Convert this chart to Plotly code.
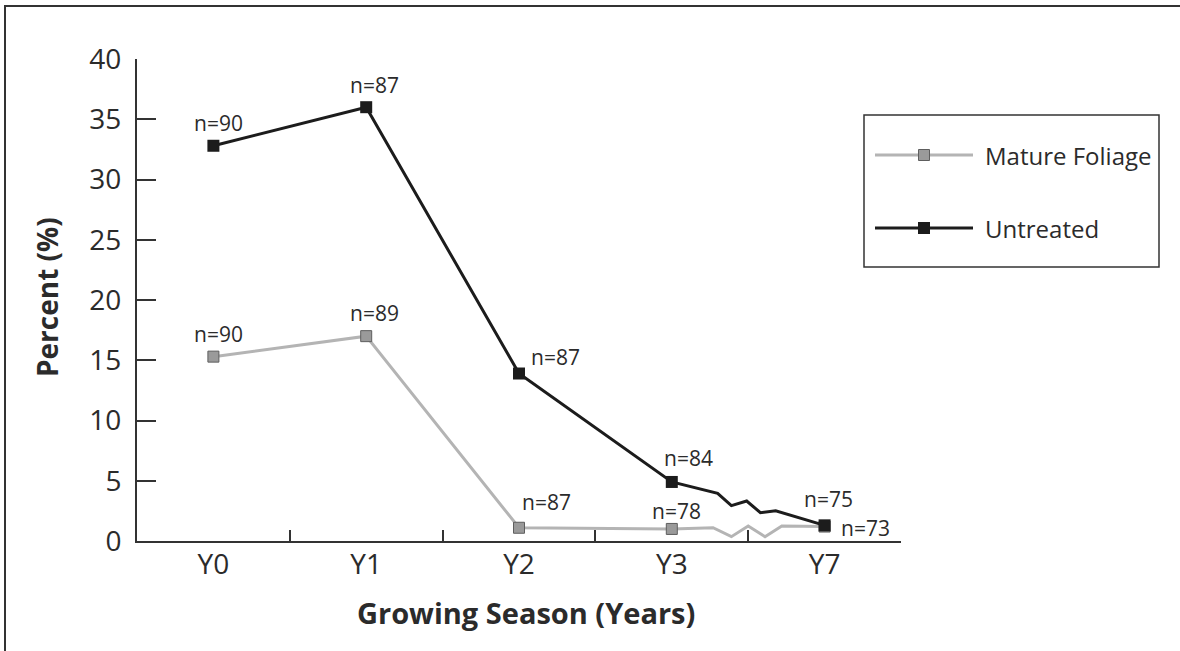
import plotly.graph_objects as go

# ---- data ----
seasons = ["Y0", "Y1", "Y2", "Y3", "Y7"]
untreated = [32.8, 36.0, 13.9, 4.9, 1.3]
mature = [15.3, 17.0, 1.1, 1.0, 1.2]
untreated_n = [90, 87, 87, 84, 75]
mature_n = [90, 89, 87, 78, 73]
# axis-break squiggle between Y3 and Y7 (x in category-index units)
untreated_break_x = [3.30, 3.39, 3.49, 3.58, 3.68]
untreated_break_y = [3.96, 2.93, 3.32, 2.35, 2.51]
mature_break_x = [3.27, 3.39, 3.50, 3.61, 3.72]
mature_break_y = [1.10, 0.36, 1.24, 0.36, 1.24]
series_names = ["Mature Foliage", "Untreated"]

W, H = 1180, 651
FONT = "Open Sans"
TXT = "#2b2b2b"

def px_x(p):
    return p / W

def px_y(p):
    return (H - p) / H

idx = list(range(len(seasons)))

def full_path(vals, bx, by):
    xs = idx[:4] + bx + [idx[4]]
    ys = vals[:4] + by + [vals[4]]
    return xs, ys

GRAY_LINE = "#b4b4b4"
GRAY_FILL = "#9a9a9a"
GRAY_EDGE = "#5e5e5e"
BLACK = "#1c1c1c"

fig = go.Figure()

mx, my = full_path(mature, mature_break_x, mature_break_y)
ux, uy = full_path(untreated, untreated_break_x, untreated_break_y)

fig.add_trace(go.Scatter(x=mx, y=my, mode="lines", line=dict(color=GRAY_LINE, width=3),
                         hoverinfo="skip", showlegend=False, cliponaxis=False))
fig.add_trace(go.Scatter(x=idx, y=mature, mode="markers", name=series_names[0],
                         marker=dict(symbol="square", size=11, color=GRAY_FILL,
                                     line=dict(color=GRAY_EDGE, width=1)),
                         showlegend=False, cliponaxis=False))
fig.add_trace(go.Scatter(x=ux, y=uy, mode="lines", line=dict(color=BLACK, width=3),
                         hoverinfo="skip", showlegend=False, cliponaxis=False))
fig.add_trace(go.Scatter(x=idx, y=untreated, mode="markers", name=series_names[1],
                         marker=dict(symbol="square", size=12, color=BLACK,
                                     line=dict(color=BLACK, width=0)),
                         showlegend=False, cliponaxis=False))

# invisible trace to anchor the boundary-tick axis
fig.add_trace(go.Scatter(x=[0], y=[0], xaxis="x2", mode="markers",
                         marker=dict(opacity=0), hoverinfo="skip", showlegend=False))

# legend samples drawn on an auxiliary axis pair
leg_rows = [1, 0]
leg_colors = [(GRAY_LINE, GRAY_FILL, GRAY_EDGE, 11, 1), (BLACK, BLACK, BLACK, 12, 0)]
for name, row, (lc, fc, ec, ms, ew) in zip(series_names, leg_rows, leg_colors):
    fig.add_trace(go.Scatter(x=[0, 1], y=[row, row], xaxis="x3", yaxis="y3", mode="lines",
                             line=dict(color=lc, width=3), hoverinfo="skip",
                             showlegend=False, cliponaxis=False))
    fig.add_trace(go.Scatter(x=[0.5], y=[row], xaxis="x3", yaxis="y3", mode="markers",
                             marker=dict(symbol="square", size=ms, color=fc,
                                         line=dict(color=ec, width=ew)),
                             hoverinfo="skip", showlegend=False, cliponaxis=False))

# n= labels (offsets in pixels)
u_off = [(5, 23, "center"), (8, 22, "center"), (10, 17, "left"), (17, 24, "center"), (4, 26, "center")]
m_off = [(5, 23, "center"), (8, 23, "center"), (27, 26, "center"), (5, 18, "center"), (14, -1, "left")]
annotations = []
for vals, ns, offs in ((untreated, untreated_n, u_off), (mature, mature_n, m_off)):
    for i, (v, n, (dx, dy, anc)) in enumerate(zip(vals, ns, offs)):
        annotations.append(dict(x=idx[i], y=v, xref="x", yref="y", text=f"n={n}",
                                showarrow=False, xanchor=anc, yanchor="middle",
                                xshift=dx, yshift=dy,
                                font=dict(family=FONT, size=21, color=TXT)))

# axis titles
annotations.append(dict(x=px_x(526), y=px_y(612), xref="paper", yref="paper",
                        text="Growing Season (Years)", showarrow=False,
                        xanchor="center", yanchor="middle",
                        font=dict(family=FONT, size=29, color=TXT, weight="bold")))
annotations.append(dict(x=px_x(47), y=px_y(297), xref="paper", yref="paper",
                        text="Percent (%)", showarrow=False, textangle=-90,
                        xanchor="center", yanchor="middle",
                        font=dict(family=FONT, size=28, color=TXT, weight="bold")))
# legend labels
for name, ypx in zip(series_names, [156, 229]):
    annotations.append(dict(x=px_x(983), y=px_y(ypx), xref="paper", yref="paper",
                            text=name, showarrow=False, xanchor="left", yanchor="middle",
                            font=dict(family=FONT, size=24, color=TXT)))

shapes = [
    # outer frame (extends past right and bottom edges)
    dict(type="rect", xref="paper", yref="paper", x0=px_x(5), x1=1.05, y0=-0.05, y1=px_y(6),
         line=dict(color="#333333", width=2), fillcolor="rgba(0,0,0,0)", layer="below"),
    # legend box
    dict(type="rect", xref="paper", yref="paper", x0=px_x(864), x1=px_x(1159),
         y0=px_y(267), y1=px_y(115), line=dict(color="#333333", width=1.5),
         fillcolor="rgba(0,0,0,0)"),
]

AX = "#333333"
fig.update_layout(
    width=W, height=H, autosize=False,
    margin=dict(l=0, r=0, t=0, b=0, pad=0, autoexpand=False),
    paper_bgcolor="white", plot_bgcolor="white",
    showlegend=False,
    annotations=annotations, shapes=shapes,
    xaxis=dict(domain=[px_x(137), px_x(901)], range=[-0.5, 4.5], tickmode="array",
               tickvals=idx, ticktext=seasons, ticks="", ticklen=0, showgrid=False, zeroline=False,
               showline=True, linecolor=AX, linewidth=2, anchor="y", automargin=False,
               tickfont=dict(family=FONT, size=28, color=TXT), ticklabelstandoff=-3,
               fixedrange=True),
    xaxis2=dict(domain=[px_x(137), px_x(901)], range=[-0.5, 4.5], overlaying="x", anchor="y",
                side="bottom", tickmode="array", tickvals=[0.5, 1.5, 2.5, 3.5, 4.5],
                showticklabels=False, ticks="inside", ticklen=11, tickwidth=2, tickcolor=AX,
                showgrid=False, zeroline=False, showline=False, automargin=False),
    yaxis=dict(domain=[px_y(541), px_y(59)], range=[0, 40], tickmode="array",
               tickvals=[0, 5, 10, 15, 20, 25, 30, 35, 40], ticks="inside", ticklen=19,
               tickwidth=2, tickcolor=AX, showgrid=False, zeroline=False, showline=True,
               linecolor=AX, linewidth=2, tickfont=dict(family=FONT, size=28, color=TXT),
               ticklabelstandoff=8, fixedrange=True, automargin=False),
    xaxis3=dict(domain=[px_x(875), px_x(973)], range=[0, 1], visible=False, anchor="y3"),
    yaxis3=dict(domain=[px_y(264.5), px_y(118.5)], range=[-0.5, 1.5], visible=False, anchor="x3"),
)

fig.write_html("out.html", config={"displayModeBar": False},
               post_script="document.body.style.margin='0';document.body.style.overflow='hidden';")
